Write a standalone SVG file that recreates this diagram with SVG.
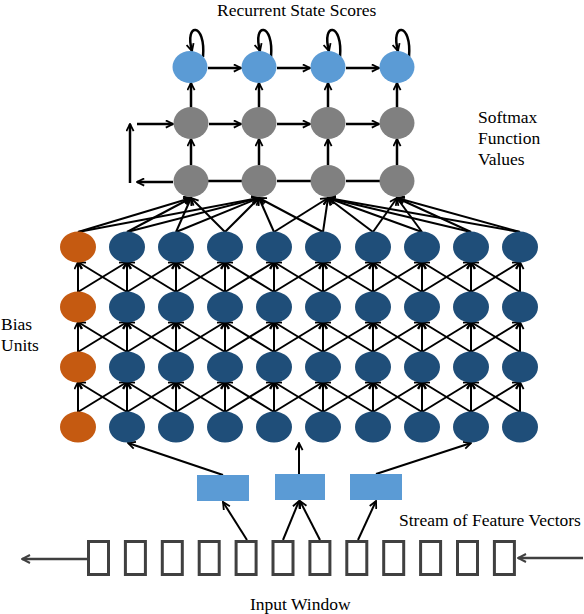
<svg xmlns="http://www.w3.org/2000/svg" xmlns:xlink="http://www.w3.org/1999/xlink" width="584" height="614" viewBox="0 0 584 614">
<style>
.t{font-family:"Liberation Serif","Times New Roman",serif;font-size:17.5px;fill:#000}
.lb{fill:#5B9BD5}
.gr{fill:#808080}
.db{fill:#1F4E79}
.or{fill:#C55A11}
.c{stroke:#000;stroke-width:2;fill:none;marker-end:url(#a)}
.c2{stroke:#000;stroke-width:2.5;fill:none;marker-end:url(#a)}
.p{stroke:#000;stroke-width:2.5;fill:none}
.g{stroke:#404040;stroke-width:2.5;fill:none;marker-end:url(#ag)}
.ib{fill:none;stroke:#404040;stroke-width:3}
</style>
<defs>
<marker id="a" viewBox="0 0 10 10" refX="9" refY="5" markerWidth="9" markerHeight="9" markerUnits="userSpaceOnUse" orient="auto">
<path d="M1,1 L9,5 L1,9" fill="none" stroke="#000" stroke-width="2"/>
</marker>
<marker id="ag" viewBox="0 0 10 10" refX="9" refY="5" markerWidth="10" markerHeight="10" markerUnits="userSpaceOnUse" orient="auto">
<path d="M1,1 L9,5 L1,9" fill="none" stroke="#404040" stroke-width="2"/>
</marker>
<g id="band">
<line class="c" x1="78" y1="292" x2="78" y2="262"/>
<line class="c" x1="78" y1="292" x2="127" y2="262"/>
<line class="c" x1="127" y1="292" x2="78" y2="262"/>
<line class="c" x1="127" y1="292" x2="127" y2="262"/>
<line class="c" x1="127" y1="292" x2="176" y2="262"/>
<line class="c" x1="176" y1="292" x2="127" y2="262"/>
<line class="c" x1="176" y1="292" x2="176" y2="262"/>
<line class="c" x1="176" y1="292" x2="225" y2="262"/>
<line class="c" x1="225" y1="292" x2="176" y2="262"/>
<line class="c" x1="225" y1="292" x2="225" y2="262"/>
<line class="c" x1="225" y1="292" x2="274" y2="262"/>
<line class="c" x1="274" y1="292" x2="225" y2="262"/>
<line class="c" x1="274" y1="292" x2="274" y2="262"/>
<line class="c" x1="274" y1="292" x2="323" y2="262"/>
<line class="c" x1="323" y1="292" x2="274" y2="262"/>
<line class="c" x1="323" y1="292" x2="323" y2="262"/>
<line class="c" x1="323" y1="292" x2="373" y2="262"/>
<line class="c" x1="373" y1="292" x2="323" y2="262"/>
<line class="c" x1="373" y1="292" x2="373" y2="262"/>
<line class="c" x1="373" y1="292" x2="422" y2="262"/>
<line class="c" x1="422" y1="292" x2="373" y2="262"/>
<line class="c" x1="422" y1="292" x2="422" y2="262"/>
<line class="c" x1="422" y1="292" x2="471" y2="262"/>
<line class="c" x1="471" y1="292" x2="422" y2="262"/>
<line class="c" x1="471" y1="292" x2="471" y2="262"/>
<line class="c" x1="471" y1="292" x2="520" y2="262"/>
<line class="c" x1="520" y1="292" x2="471" y2="262"/>
<line class="c" x1="520" y1="292" x2="520" y2="262"/>
</g>
</defs>
<rect width="584" height="614" fill="#fff"/>

<g id="connectors">
<!-- network bands -->
<use xlink:href="#band"/>
<use xlink:href="#band" transform="translate(0,60)"/>
<use xlink:href="#band" transform="translate(0,120)"/>
<!-- network to softmax row -->
<line class="c" x1="78" y1="232" x2="191" y2="198"/>
<line class="c" x1="127" y1="232" x2="191" y2="198"/>
<line class="c" x1="176" y1="232" x2="191" y2="198"/>
<line class="c" x1="225" y1="232" x2="191" y2="198"/>
<line class="c" x1="78" y1="232" x2="259" y2="198"/>
<line class="c" x1="127" y1="232" x2="259" y2="198"/>
<line class="c" x1="176" y1="232" x2="259" y2="198"/>
<line class="c" x1="225" y1="232" x2="259" y2="198"/>
<line class="c" x1="274" y1="232" x2="259" y2="198"/>
<line class="c" x1="323" y1="232" x2="259" y2="198"/>
<line class="c" x1="274" y1="232" x2="328" y2="198"/>
<line class="c" x1="323" y1="232" x2="328" y2="198"/>
<line class="c" x1="373" y1="232" x2="328" y2="198"/>
<line class="c" x1="422" y1="232" x2="328" y2="198"/>
<line class="c" x1="471" y1="232" x2="328" y2="198"/>
<line class="c" x1="520" y1="232" x2="328" y2="198"/>
<line class="c" x1="373" y1="232" x2="397" y2="198"/>
<line class="c" x1="422" y1="232" x2="397" y2="198"/>
<line class="c" x1="471" y1="232" x2="397" y2="198"/>
<line class="c" x1="520" y1="232" x2="397" y2="198"/>
<!-- softmax lower row links -->
<line class="p" x1="208" y1="181" x2="242" y2="181"/>
<line class="p" x1="277" y1="181" x2="311" y2="181"/>
<line class="p" x1="346" y1="181" x2="380" y2="181"/>
<line class="c2" x1="173" y1="182" x2="137" y2="182"/>
<line class="c2" x1="130" y1="183" x2="130" y2="124"/>
<line class="c2" x1="137" y1="124" x2="173" y2="124"/>
<!-- lower to upper softmax -->
<line class="c2" x1="191" y1="165" x2="191" y2="139"/>
<line class="c2" x1="259" y1="165" x2="259" y2="139"/>
<line class="c2" x1="328" y1="165" x2="328" y2="139"/>
<line class="c2" x1="397" y1="165" x2="397" y2="139"/>
<!-- upper softmax horizontal -->
<line class="c2" x1="209" y1="124" x2="241" y2="124"/>
<line class="c2" x1="277" y1="124" x2="310" y2="124"/>
<line class="c2" x1="346" y1="124" x2="379" y2="124"/>
<!-- softmax to recurrent -->
<line class="c2" x1="191" y1="108" x2="191" y2="83"/>
<line class="c2" x1="259" y1="108" x2="259" y2="83"/>
<line class="c2" x1="328" y1="108" x2="328" y2="83"/>
<line class="c2" x1="397" y1="108" x2="397" y2="83"/>
<!-- recurrent horizontal -->
<line class="c2" x1="208" y1="68" x2="241" y2="68"/>
<line class="c2" x1="277" y1="68" x2="310" y2="68"/>
<line class="c2" x1="346" y1="68" x2="379" y2="68"/>
<!-- self loops -->
<path class="c2" d="M203,57 C206,22 184,22 192,51"/>
<path class="c2" d="M271,57 C274,22 252,22 260,51"/>
<path class="c2" d="M340,57 C343,22 321,22 329,51"/>
<path class="c2" d="M409,57 C412,22 390,22 398,51"/>
<!-- feature vectors to network -->
<line class="c" x1="223" y1="475" x2="128" y2="443"/>
<line class="c" x1="299" y1="475" x2="299" y2="443"/>
<line class="c" x1="376" y1="474" x2="471" y2="443"/>
<!-- input window to feature vectors -->
<line class="c" x1="247" y1="540" x2="223" y2="502"/>
<line class="c" x1="283" y1="540" x2="299" y2="501"/>
<line class="c" x1="320" y1="540" x2="300" y2="501"/>
<line class="c" x1="358" y1="540" x2="376" y2="501"/>
<!-- stream arrows -->
<line class="g" x1="87" y1="559" x2="22" y2="559"/>
<line class="g" x1="583" y1="558" x2="518" y2="558"/>
</g>

<g id="rec1"><ellipse class="lb" cx="190" cy="67" rx="17.5" ry="16"/></g>
<g id="rec2"><ellipse class="lb" cx="259" cy="67" rx="17.5" ry="16"/></g>
<g id="rec3"><ellipse class="lb" cx="328" cy="67" rx="17.5" ry="16"/></g>
<g id="rec4"><ellipse class="lb" cx="397" cy="67" rx="17.5" ry="16"/></g>

<g id="sm2a"><ellipse class="gr" cx="191" cy="123" rx="17.5" ry="16"/></g>
<g id="sm2b"><ellipse class="gr" cx="259" cy="123" rx="17.5" ry="16"/></g>
<g id="sm2c"><ellipse class="gr" cx="328" cy="123" rx="17.5" ry="16"/></g>
<g id="sm2d"><ellipse class="gr" cx="397" cy="123" rx="17.5" ry="16"/></g>

<g id="sm1a"><ellipse class="gr" cx="191" cy="181" rx="17.5" ry="16"/></g>
<g id="sm1b"><ellipse class="gr" cx="259" cy="181" rx="17.5" ry="16"/></g>
<g id="sm1c"><ellipse class="gr" cx="328" cy="181" rx="17.5" ry="16"/></g>
<g id="sm1d"><ellipse class="gr" cx="397" cy="181" rx="17.5" ry="16"/></g>

<g id="n1_0"><ellipse class="or" cx="78" cy="247" rx="18" ry="15.5"/></g>
<g id="n1_1"><ellipse class="db" cx="127" cy="247" rx="18" ry="15.5"/></g>
<g id="n1_2"><ellipse class="db" cx="176" cy="247" rx="18" ry="15.5"/></g>
<g id="n1_3"><ellipse class="db" cx="225" cy="247" rx="18" ry="15.5"/></g>
<g id="n1_4"><ellipse class="db" cx="274" cy="247" rx="18" ry="15.5"/></g>
<g id="n1_5"><ellipse class="db" cx="323" cy="247" rx="18" ry="15.5"/></g>
<g id="n1_6"><ellipse class="db" cx="373" cy="247" rx="18" ry="15.5"/></g>
<g id="n1_7"><ellipse class="db" cx="422" cy="247" rx="18" ry="15.5"/></g>
<g id="n1_8"><ellipse class="db" cx="471" cy="247" rx="18" ry="15.5"/></g>
<g id="n1_9"><ellipse class="db" cx="520" cy="247" rx="18" ry="15.5"/></g>

<g id="n2_0"><ellipse class="or" cx="78" cy="307" rx="18" ry="15.5"/></g>
<g id="n2_1"><ellipse class="db" cx="127" cy="307" rx="18" ry="15.5"/></g>
<g id="n2_2"><ellipse class="db" cx="176" cy="307" rx="18" ry="15.5"/></g>
<g id="n2_3"><ellipse class="db" cx="225" cy="307" rx="18" ry="15.5"/></g>
<g id="n2_4"><ellipse class="db" cx="274" cy="307" rx="18" ry="15.5"/></g>
<g id="n2_5"><ellipse class="db" cx="323" cy="307" rx="18" ry="15.5"/></g>
<g id="n2_6"><ellipse class="db" cx="373" cy="307" rx="18" ry="15.5"/></g>
<g id="n2_7"><ellipse class="db" cx="422" cy="307" rx="18" ry="15.5"/></g>
<g id="n2_8"><ellipse class="db" cx="471" cy="307" rx="18" ry="15.5"/></g>
<g id="n2_9"><ellipse class="db" cx="520" cy="307" rx="18" ry="15.5"/></g>

<g id="n3_0"><ellipse class="or" cx="78" cy="367" rx="18" ry="15.5"/></g>
<g id="n3_1"><ellipse class="db" cx="127" cy="367" rx="18" ry="15.5"/></g>
<g id="n3_2"><ellipse class="db" cx="176" cy="367" rx="18" ry="15.5"/></g>
<g id="n3_3"><ellipse class="db" cx="225" cy="367" rx="18" ry="15.5"/></g>
<g id="n3_4"><ellipse class="db" cx="274" cy="367" rx="18" ry="15.5"/></g>
<g id="n3_5"><ellipse class="db" cx="323" cy="367" rx="18" ry="15.5"/></g>
<g id="n3_6"><ellipse class="db" cx="373" cy="367" rx="18" ry="15.5"/></g>
<g id="n3_7"><ellipse class="db" cx="422" cy="367" rx="18" ry="15.5"/></g>
<g id="n3_8"><ellipse class="db" cx="471" cy="367" rx="18" ry="15.5"/></g>
<g id="n3_9"><ellipse class="db" cx="520" cy="367" rx="18" ry="15.5"/></g>

<g id="n4_0"><ellipse class="or" cx="78" cy="427" rx="18" ry="15.5"/></g>
<g id="n4_1"><ellipse class="db" cx="127" cy="427" rx="18" ry="15.5"/></g>
<g id="n4_2"><ellipse class="db" cx="176" cy="427" rx="18" ry="15.5"/></g>
<g id="n4_3"><ellipse class="db" cx="225" cy="427" rx="18" ry="15.5"/></g>
<g id="n4_4"><ellipse class="db" cx="274" cy="427" rx="18" ry="15.5"/></g>
<g id="n4_5"><ellipse class="db" cx="323" cy="427" rx="18" ry="15.5"/></g>
<g id="n4_6"><ellipse class="db" cx="373" cy="427" rx="18" ry="15.5"/></g>
<g id="n4_7"><ellipse class="db" cx="422" cy="427" rx="18" ry="15.5"/></g>
<g id="n4_8"><ellipse class="db" cx="471" cy="427" rx="18" ry="15.5"/></g>
<g id="n4_9"><ellipse class="db" cx="520" cy="427" rx="18" ry="15.5"/></g>

<g id="fv1"><rect class="lb" x="197" y="475" width="52" height="26"/></g>
<g id="fv2"><rect class="lb" x="275" y="474" width="50" height="26"/></g>
<g id="fv3"><rect class="lb" x="350" y="474" width="52" height="26"/></g>

<g id="iw1"><rect class="ib" x="88.5" y="541.5" width="20" height="33"/></g>
<g id="iw2"><rect class="ib" x="125.4" y="541.5" width="20" height="33"/></g>
<g id="iw3"><rect class="ib" x="162.3" y="541.5" width="20" height="33"/></g>
<g id="iw4"><rect class="ib" x="199.2" y="541.5" width="20" height="33"/></g>
<g id="iw5"><rect class="ib" x="236.1" y="541.5" width="20" height="33"/></g>
<g id="iw6"><rect class="ib" x="273" y="541.5" width="20" height="33"/></g>
<g id="iw7"><rect class="ib" x="309.9" y="541.5" width="20" height="33"/></g>
<g id="iw8"><rect class="ib" x="346.8" y="541.5" width="20" height="33"/></g>
<g id="iw9"><rect class="ib" x="383.7" y="541.5" width="20" height="33"/></g>
<g id="iw10"><rect class="ib" x="420.6" y="541.5" width="20" height="33"/></g>
<g id="iw11"><rect class="ib" x="457.5" y="541.5" width="20" height="33"/></g>
<g id="iw12"><rect class="ib" x="494.4" y="541.5" width="20" height="33"/></g>

<g id="labels">
<text class="t" x="217" y="16">Recurrent State Scores</text>
<text class="t" x="478" y="123">Softmax</text>
<text class="t" x="478" y="144">Function</text>
<text class="t" x="478" y="165">Values</text>
<text class="t" x="1" y="330">Bias</text>
<text class="t" x="1" y="351">Units</text>
<text class="t" x="399" y="526">Stream of Feature Vectors</text>
<text class="t" x="250" y="610">Input Window</text>
</g>
</svg>
